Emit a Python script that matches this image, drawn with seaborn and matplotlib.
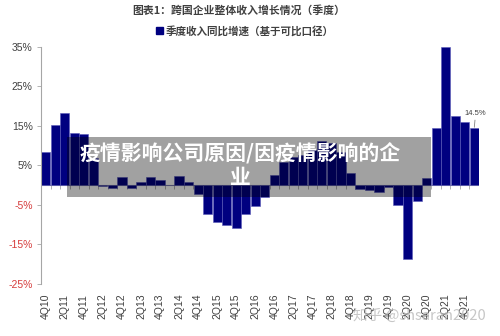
import matplotlib
matplotlib.use("Agg")
import matplotlib.pyplot as plt
import matplotlib.patches as mpatches
import pandas as pd
import seaborn as sns

# Quarterly revenue growth (YoY, comparable basis), %
quarters = [
    "4Q10",
    "1Q11", "2Q11", "3Q11", "4Q11",
    "1Q12", "2Q12", "3Q12", "4Q12",
    "1Q13", "2Q13", "3Q13", "4Q13",
    "1Q14", "2Q14", "3Q14", "4Q14",
    "1Q15", "2Q15", "3Q15", "4Q15",
    "1Q16", "2Q16", "3Q16", "4Q16",
    "1Q17", "2Q17", "3Q17", "4Q17",
    "1Q18", "2Q18", "3Q18", "4Q18",
    "1Q19", "2Q19", "3Q19", "4Q19",
    "1Q20", "2Q20", "3Q20", "4Q20",
    "1Q21", "2Q21", "3Q21", "4Q21",
    "1Q22",
]
growth = [
    8.4,
    15.3, 18.3, 13.2, 12.9,
    7.0, -0.3, -0.7, 2.2,
    -0.6, 0.7, 2.0, 1.3,
    0.1, 2.4, 0.9, -2.2,
    -7.2, -9.2, -10.1, -10.9,
    -7.3, -5.2, -3.0, 2.6,
    6.0, 7.2, 7.7, 9.0,
    11.3, 10.8, 8.5, 3.1,
    -1.0, -1.3, -1.6, -0.5,
    -4.9, -18.7, -4.0, 1.9,
    14.4, 35.0, 17.6, 16.0,
    14.5,
]
y_ticks = [-25, -15, -5, 5, 15, 25, 35]

title = "图表1：跨国企业整体收入增长情况（季度）"
series_name = "季度收入同比增速（基于可比口径）"
overlay_text = "疫情影响公司原因/因疫情影响的企\n业"
watermark = "知乎 @shsaran2020"

sns.set_theme(style="white")
plt.rcParams["font.family"] = ["Liberation Sans", "Noto Sans CJK SC", "DejaVu Sans"]
cjk = ["Noto Sans CJK SC", "DejaVu Sans"]

NAVY = "#000080"
AXIS_GREY = "#a6a6a6"
TEXT_GREY = "#404040"
NEG_RED = "#d63c3c"

df = pd.DataFrame({"quarter": quarters, "growth": growth})

fig = plt.figure(figsize=(5.0, 3.36), dpi=100)
ax = fig.add_axes([0.082, 0.1548, 0.876, 0.7054])

sns.barplot(data=df, x="quarter", y="growth", order=quarters, color=NAVY,
            saturation=1, width=0.96, edgecolor="#5a5ab8", linewidth=0.4,
            ax=ax, zorder=2)

ax.set_ylim(-25, 35)
ax.set_xlim(-0.5, len(quarters) - 0.5)
ax.set_xlabel("")
ax.set_ylabel("")

# y axis: percentage labels, negatives in red
ax.set_yticks(y_ticks)
ax.set_yticklabels([f"{v}%" for v in y_ticks], fontsize=7.5)
for lbl, v in zip(ax.get_yticklabels(), y_ticks):
    lbl.set_color(NEG_RED if v < 0 else TEXT_GREY)
ax.tick_params(axis="y", length=3, width=0.6, color=AXIS_GREY, pad=3, left=True)

# x axis: every other quarter, labels at the bottom
label_idx = list(range(0, len(quarters), 2))
ax.set_xticks(label_idx)
ax.set_xticklabels([quarters[i] for i in label_idx], rotation=90,
                   fontsize=7.5, color=TEXT_GREY)
ax.tick_params(axis="x", length=0, pad=7)

for side in ("top", "right", "bottom"):
    ax.spines[side].set_visible(False)
ax.spines["left"].set_color(AXIS_GREY)
ax.spines["left"].set_linewidth(0.8)

# category axis line at zero with ticks between categories
ax.axhline(0, color=AXIS_GREY, linewidth=0.8, zorder=1)
zero_axis = ax.secondary_xaxis(0, transform=ax.transData)
zero_axis.set_xticks([i + 0.5 for i in range(len(quarters) - 1)])
zero_axis.tick_params(length=3, width=0.6, color=AXIS_GREY, labelbottom=False)
zero_axis.spines["bottom"].set_visible(False)

# label for the latest quarter
ax.annotate(f"{growth[-1]}%", xy=(len(quarters) - 1, growth[-1]),
            xytext=(1, 8), textcoords="offset points", ha="center", va="bottom",
            fontsize=5.5, color=TEXT_GREY,
            arrowprops=dict(arrowstyle="-", color="#808080", lw=0.6,
                            shrinkA=0, shrinkB=0.5))

# title and legend
fig.text(0.478, 0.968, title, ha="center", va="center", fontsize=7.8,
         fontweight="bold", color=TEXT_GREY, family=cjk)
handle = mpatches.Patch(color=NAVY, label=series_name)
leg = fig.legend(handles=[handle], loc="center", bbox_to_anchor=(0.49, 0.908),
                 frameon=False, handlelength=0.6, handleheight=0.6,
                 handletextpad=0.3, borderaxespad=0,
                 prop={"family": cjk, "size": 7.6, "weight": "bold"})
for t in leg.get_texts():
    t.set_color(TEXT_GREY)

# translucent caption band
band = mpatches.Rectangle((0.134, 0.4137), 0.728, 0.1786, transform=fig.transFigure,
                          facecolor="black", alpha=0.37, edgecolor="none", zorder=5)
fig.patches.append(band)
fig.text(0.481, 0.506, overlay_text, ha="center", va="center", fontsize=15,
         fontweight="bold", color="white", family=cjk, linespacing=1.15, zorder=6)

# watermark
fig.text(0.839, 0.06, watermark, ha="center", va="center", fontsize=10.5,
         color="#bdbdbd", alpha=0.85, family=cjk, zorder=6)

fig.savefig("out.png", dpi=100)
